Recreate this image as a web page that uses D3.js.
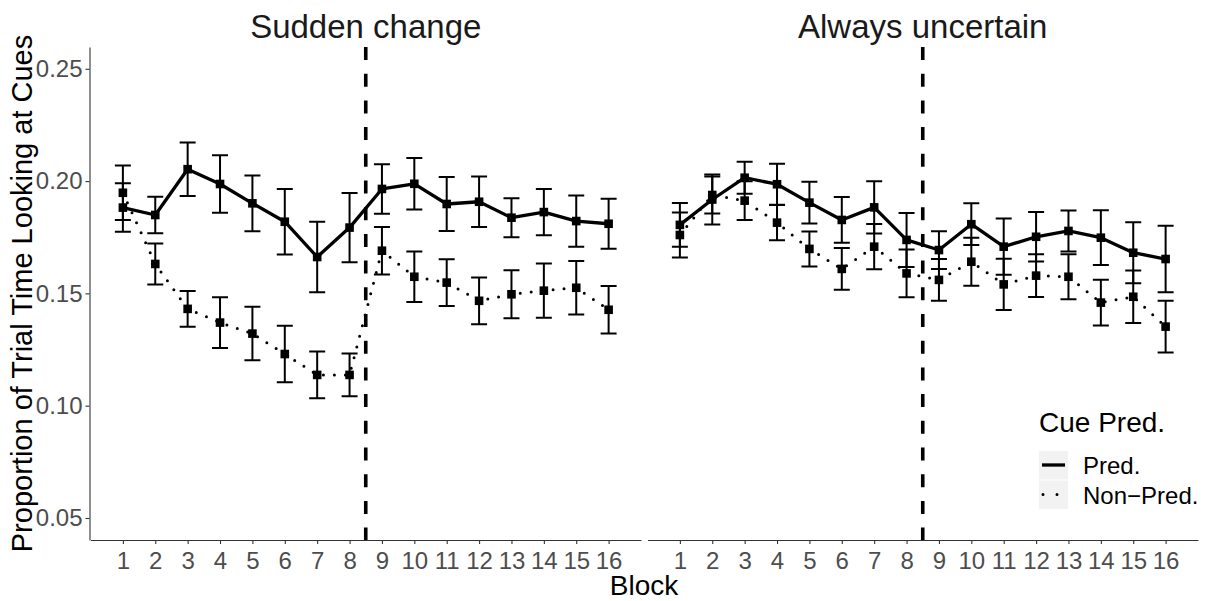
<!DOCTYPE html>
<html>
<head>
<meta charset="utf-8">
<script src="https://cdn.jsdelivr.net/npm/d3@7"></script>
<style>
  body { margin: 0; background: #fff; }
  text { font-family: "Liberation Sans", Arial, Helvetica, sans-serif; }
</style>
</head>
<body>
<svg id="chart" width="1210" height="601"></svg>
<script>
// data
var blocks = [1, 2, 3, 4, 5, 6, 7, 8, 9, 10, 11, 12, 13, 14, 15, 16];
var panelNames = ['Sudden change', 'Always uncertain'];
var seriesNames = ['Pred.', 'Non\u2212Pred.'];
var yTicks = [0.05, 0.10, 0.15, 0.20, 0.25];
var changeBlock = 8.5;

var suddenPred = [0.1882, 0.1849, 0.2053, 0.1987, 0.1901, 0.1819, 0.1662, 0.1793,
                  0.1965, 0.1988, 0.1898, 0.1908, 0.1837, 0.1862, 0.1822, 0.1810];
var suddenPredSe = [0.0108, 0.0081, 0.0119, 0.0128, 0.0124, 0.0146, 0.0157, 0.0154,
                    0.0110, 0.0115, 0.0120, 0.0112, 0.0087, 0.0103, 0.0114, 0.0111];
var suddenNonPred = [0.1948, 0.1631, 0.1431, 0.1370, 0.1321, 0.1230, 0.1137, 0.1137,
                     0.1690, 0.1574, 0.1548, 0.1467, 0.1496, 0.1512, 0.1525, 0.1427];
var suddenNonPredSe = [0.0121, 0.0091, 0.0080, 0.0113, 0.0119, 0.0126, 0.0104, 0.0095,
                       0.0106, 0.0112, 0.0104, 0.0104, 0.0107, 0.0121, 0.0119, 0.0106];

var uncertainPred = [0.1805, 0.1918, 0.2015, 0.1986, 0.1904, 0.1827, 0.1883, 0.1738,
                     0.1693, 0.1808, 0.1708, 0.1752, 0.1778, 0.1748, 0.1681, 0.1653];
var uncertainPredSe = [0.0097, 0.0111, 0.0071, 0.0091, 0.0093, 0.0102, 0.0116, 0.0120,
                       0.0084, 0.0093, 0.0125, 0.0110, 0.0091, 0.0122, 0.0136, 0.0148];
var uncertainNonPred = [0.1760, 0.1938, 0.1913, 0.1815, 0.1698, 0.1609, 0.1708, 0.1589,
                        0.1560, 0.1641, 0.1540, 0.1579, 0.1574, 0.1459, 0.1485, 0.1352];
var uncertainNonPredSe = [0.0100, 0.0082, 0.0086, 0.0078, 0.0078, 0.0093, 0.0101, 0.0106,
                          0.0093, 0.0107, 0.0114, 0.0095, 0.0100, 0.0102, 0.0117, 0.0115];

var panels = [
  { name: panelNames[0], left: 90.5, right: 641, yAxis: true,
    series: [
      { name: seriesNames[0], mean: suddenPred, se: suddenPredSe, dash: null },
      { name: seriesNames[1], mean: suddenNonPred, se: suddenNonPredSe, dash: '0 11' }
    ] },
  { name: panelNames[1], left: 647.5, right: 1198, yAxis: false,
    series: [
      { name: seriesNames[0], mean: uncertainPred, se: uncertainPredSe, dash: null },
      { name: seriesNames[1], mean: uncertainNonPred, se: uncertainNonPredSe, dash: '0 11' }
    ] }
];

var svg = d3.select('#chart');
var plotTop = 47, plotBottom = 540;

var y = d3.scaleLinear().domain([0.0402, 0.2597]).range([plotBottom, plotTop]);

panels.forEach(function(p) {
  var x = d3.scaleLinear().domain([0, 17]).range([p.left, p.right]);
  var g = svg.append('g');

  // strip title
  g.append('text')
    .attr('x', (p.left + p.right) / 2)
    .attr('y', 38)
    .attr('text-anchor', 'middle')
    .attr('font-size', 33)
    .attr('fill', '#1a1a1a')
    .text(p.name);

  // x axis
  var xa = g.append('g')
    .attr('transform', 'translate(0,' + plotBottom + ')')
    .call(d3.axisBottom(x).tickValues(blocks).tickSize(4).tickSizeOuter(0).tickPadding(8));
  xa.select('.domain').attr('stroke', '#333').attr('stroke-width', 1.1);
  xa.selectAll('.tick line').attr('stroke', '#333').attr('stroke-width', 1.1);
  xa.selectAll('.tick text').attr('font-size', 24).attr('fill', '#4d4d4d')
    .attr('font-family', '"Liberation Sans", Arial, sans-serif');

  if (p.yAxis) {
    var ya = g.append('g')
      .attr('transform', 'translate(' + (p.left - 1) + ',0)')
      .call(d3.axisLeft(y).tickValues(yTicks).tickFormat(d3.format('.2f'))
        .tickSize(4).tickSizeOuter(0).tickPadding(3));
    ya.select('.domain').attr('stroke', '#333').attr('stroke-width', 1.1);
    ya.selectAll('.tick line').attr('stroke', '#333').attr('stroke-width', 1.1);
    ya.selectAll('.tick text').attr('font-size', 24).attr('fill', '#4d4d4d')
      .attr('font-family', '"Liberation Sans", Arial, sans-serif');
  }

  p.series.forEach(function(s) {
    var pts = blocks.map(function(b, i) {
      return { block: b, mean: s.mean[i], se: s.se[i] };
    });

    // error bars
    var eb = g.append('g').attr('stroke', '#000').attr('stroke-width', 2).attr('fill', 'none');
    eb.selectAll('path')
      .data(pts)
      .enter().append('path')
        .attr('d', function(d) {
          var cx = x(d.block), hi = y(d.mean + d.se), lo = y(d.mean - d.se);
          return 'M' + (cx - 8) + ',' + hi + 'H' + (cx + 8) +
                 'M' + cx + ',' + hi + 'V' + lo +
                 'M' + (cx - 8) + ',' + lo + 'H' + (cx + 8);
        });

    // line
    var line = d3.line()
      .x(function(d) { return x(d.block); })
      .y(function(d) { return y(d.mean); });
    var path = g.append('path')
      .datum(pts)
      .attr('d', line)
      .attr('fill', 'none')
      .attr('stroke', '#000');
    if (s.dash) {
      path.attr('stroke-width', 3).attr('stroke-dasharray', s.dash).attr('stroke-linecap', 'round');
    } else {
      path.attr('stroke-width', 3.3).attr('stroke-linejoin', 'round');
    }

    // points
    g.selectAll(null)
      .data(pts)
      .enter().append('rect')
        .attr('x', function(d) { return x(d.block) - 4.3; })
        .attr('y', function(d) { return y(d.mean) - 4.3; })
        .attr('width', 8.6)
        .attr('height', 8.6)
        .attr('fill', '#000');
  });

  // change point
  g.append('line')
    .attr('x1', x(changeBlock)).attr('x2', x(changeBlock))
    .attr('y1', plotTop).attr('y2', plotBottom)
    .attr('stroke', '#000')
    .attr('stroke-width', 3.6)
    .attr('stroke-dasharray', '13 13.7');
});

// axis titles
svg.append('text')
  .attr('transform', 'translate(32,293.5) rotate(-90)')
  .attr('text-anchor', 'middle')
  .attr('font-size', 29)
  .attr('fill', '#000')
  .text('Proportion of Trial Time Looking at Cues');

svg.append('text')
  .attr('x', 644)
  .attr('y', 595)
  .attr('text-anchor', 'middle')
  .attr('font-size', 28)
  .attr('fill', '#000')
  .text('Block');

// legend
var legend = svg.append('g').attr('transform', 'translate(1039,0)');
legend.append('text')
  .attr('x', 0).attr('y', 432)
  .attr('font-size', 28)
  .text('Cue Pred.');

seriesNames.forEach(function(name, i) {
  var ky = 451 + i * 29.5;
  legend.append('rect')
    .attr('x', 0).attr('y', ky)
    .attr('width', 29).attr('height', 28.5)
    .attr('fill', '#f2f2f2');
  var l = legend.append('line')
    .attr('x1', 3).attr('x2', 26)
    .attr('y1', ky + 14).attr('y2', ky + 14)
    .attr('stroke', '#000');
  if (i === 0) {
    l.attr('stroke-width', 3.3);
  } else {
    l.attr('x1', 4).attr('x2', 26)
      .attr('stroke-width', 3).attr('stroke-linecap', 'round').attr('stroke-dasharray', '0 14');
  }
  legend.append('text')
    .attr('x', 44).attr('y', ky + 23)
    .attr('font-size', 24)
    .text(name);
});
</script>
</body>
</html>
